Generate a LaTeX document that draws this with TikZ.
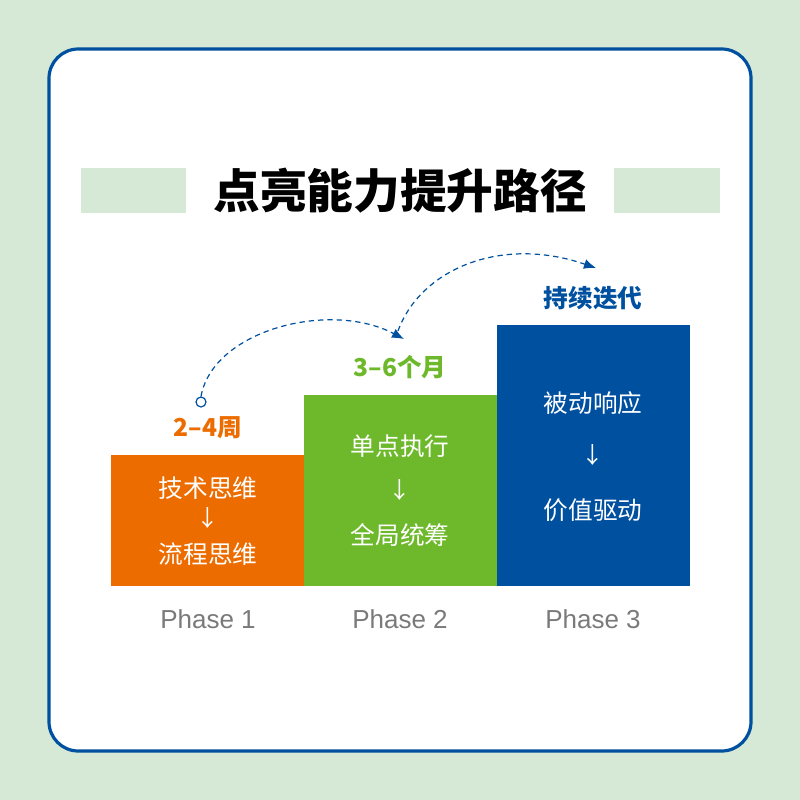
\documentclass[tikz,border=0pt]{standalone}
\usepackage{fontspec}
\setmainfont{Liberation Sans}
\newfontfamily\cjk{Noto Sans CJK SC}
\usetikzlibrary{arrows.meta}
\definecolor{bgg}{HTML}{D5E9D6}
\definecolor{frameblue}{HTML}{0050A0}
\definecolor{orng}{HTML}{EC6C00}
\definecolor{grn}{HTML}{6EB92B}
\definecolor{blu}{HTML}{0050A0}
\definecolor{phasegray}{HTML}{7A7A7A}
\tikzset{
  boxtext/.style={text=white, font=\cjk\fontsize{18.5}{20}\selectfont},
  arrtext/.style={text=white, font=\cjk\fontsize{17}{18}\selectfont},
  toplabel/.style={font=\cjk\bfseries\fontsize{18.5}{20}\selectfont},
  phase/.style={text=phasegray, font=\fontsize{19.5}{21}\selectfont},
  flow/.style={draw=blu, dash pattern=on 4pt off 3pt, line width=0.9pt, -{Latex[length=9pt,width=7.5pt]}}
}
\begin{document}
\begin{tikzpicture}[x=0.75pt,y=-0.75pt]
\useasboundingbox (0,0) rectangle (800,800);
\fill[bgg] (0,0) rectangle (800,800);
\draw[frameblue, fill=white, line width=2.4pt, rounded corners=22pt] (49,49) rectangle (751,751);
% title bars
\fill[bgg] (81,168) rectangle (186,213);
\fill[bgg] (614,168) rectangle (720,213);
\node[font=\cjk\bfseries\fontsize{35}{38}\selectfont] (title) at (400,191) {点亮能力提升路径};
% blocks
\fill[orng] (111,455) rectangle (304,586);
\fill[grn] (304,395) rectangle (497,586);
\fill[blu] (497,325) rectangle (690,586);
% block texts
\node[boxtext] (a1) at (208,488) {技术思维};
\node[arrtext] (a2) at (208,518) {↓};
\node[boxtext] (a3) at (208,554) {流程思维};
\node[boxtext] (b1) at (400,446) {单点执行};
\node[arrtext] (b2) at (400,490) {↓};
\node[boxtext] (b3) at (400,535) {全局统筹};
\node[boxtext] (c1) at (593,403) {被动响应};
\node[arrtext] (c2) at (593,455) {↓};
\node[boxtext] (c3) at (593,510) {价值驱动};
% top labels
\node[toplabel, text=orng] (l1) at (208,428) {2–4周};
\node[toplabel, text=grn] (l2) at (400,367) {3–6个月};
\node[toplabel, text=blu] (l3) at (593,298) {持续迭代};
% phases
\node[phase] (p1) at (208,619) {Phase 1};
\node[phase] (p2) at (400,619) {Phase 2};
\node[phase] (p3) at (593,619) {Phase 3};
% dashed arcs
\node[circle, draw=blu, line width=0.9pt, minimum size=7.5pt, inner sep=0pt] (st) at (201,402) {};
\coordinate (m1) at (404,339);
\coordinate (m0) at (398,331);
\coordinate (e2) at (596,268);
\draw[flow] (st.north) .. controls (213,330) and (330,300) .. (m1);
\draw[flow] (m0) .. controls (420,270) and (500,235) .. (e2);
\end{tikzpicture}
\end{document}
